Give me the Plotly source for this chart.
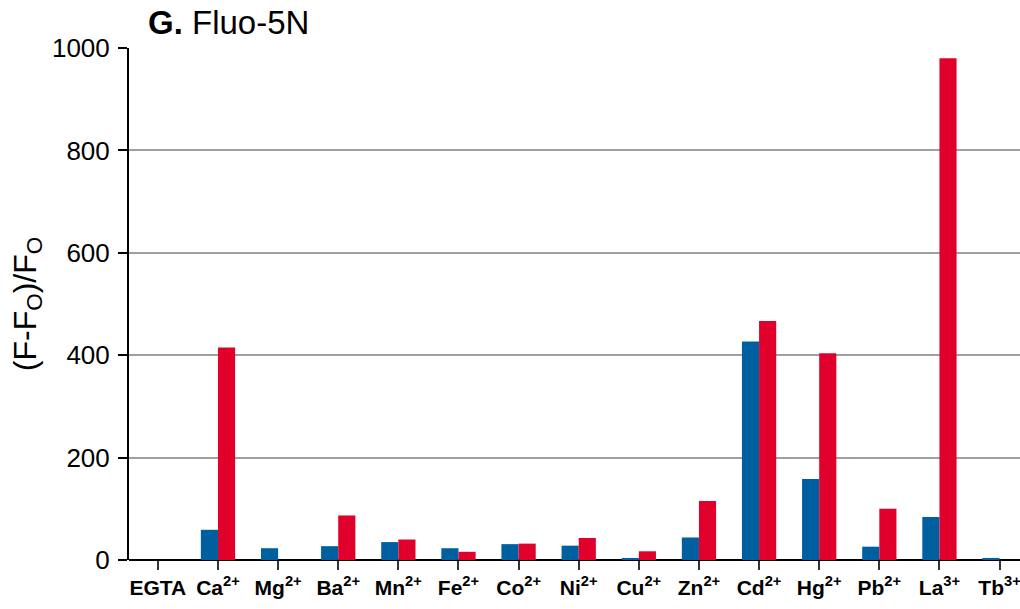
import plotly.graph_objects as go

categories = ["EGTA", "Ca<sup>2+</sup>", "Mg<sup>2+</sup>", "Ba<sup>2+</sup>", "Mn<sup>2+</sup>",
              "Fe<sup>2+</sup>", "Co<sup>2+</sup>", "Ni<sup>2+</sup>", "Cu<sup>2+</sup>", "Zn<sup>2+</sup>",
              "Cd<sup>2+</sup>", "Hg<sup>2+</sup>", "Pb<sup>2+</sup>", "La<sup>3+</sup>", "Tb<sup>3+</sup>"]
blue_values = [0, 59, 23, 27, 35, 23, 31, 28, 4, 44, 427, 158, 26, 84, 4]
red_values = [0, 415, 0, 87, 40, 16, 32, 43, 17, 115, 467, 404, 100, 980, 0]
y_ticks = [0, 200, 400, 600, 800, 1000]

x = list(range(len(categories)))
tick_text = ["<b>%s</b>" % c for c in categories]

fig = go.Figure()
fig.add_trace(go.Bar(x=x, y=blue_values, marker=dict(color="#00609f", line=dict(width=0)), showlegend=False))
fig.add_trace(go.Bar(x=x, y=red_values, marker=dict(color="#e0002b", line=dict(width=0)), showlegend=False))

fig.update_layout(
    width=1020, height=609,
    margin=dict(l=129, r=0, t=48, b=49),
    paper_bgcolor="white", plot_bgcolor="white",
    barmode="group", bargap=0.43, bargroupgap=0,
    font=dict(family="Liberation Sans, Arial, sans-serif", color="black"),
    title=dict(text="<b>G.</b> Fluo-5N", x=148/1020, xanchor="left", y=1 - 22/609, yanchor="middle",
               font=dict(size=33, color="black")),
    xaxis=dict(
        range=[-0.48, 14.34], tickmode="array", tickvals=x, ticktext=tick_text,
        ticks="outside", ticklen=9, tickwidth=2, tickcolor="#333",
        tickfont=dict(size=21, color="black"), ticklabeloverflow="allow",
        showgrid=False, zeroline=False, showline=False,
    ),
    yaxis=dict(
        range=[0, 1000], tickmode="array", tickvals=y_ticks,
        ticks="outside", ticklen=9, tickwidth=2, tickcolor="black",
        tickfont=dict(size=26, color="black"), ticklabelstandoff=3,
        showgrid=True, gridcolor="#a0a0a0", gridwidth=2,
        zeroline=True, zerolinecolor="black", zerolinewidth=2,
        showline=True, linecolor="black", linewidth=2,
        title=dict(text="(F-F<sub>O</sub>)/F<sub>O</sub>", font=dict(size=32, color="black"), standoff=6),
    ),
)

fig.write_html("out.html")
